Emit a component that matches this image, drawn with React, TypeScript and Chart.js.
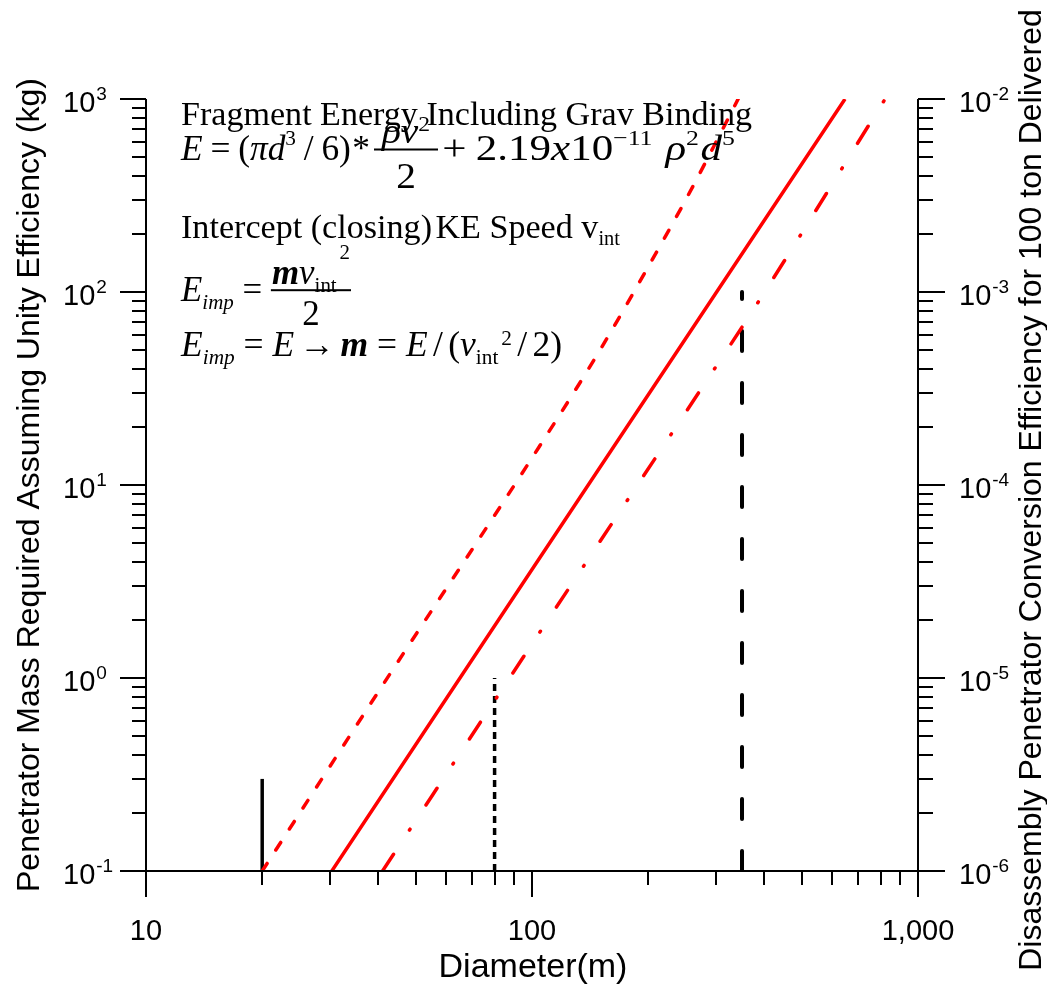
import React, { useEffect, useRef } from "react";
import { Chart, registerables } from "chart.js";

Chart.register(...registerables);

// ---------------- data ----------------
// Diameter (m) / penetrator mass (kg) pairs for the three red curves
const dashedDiam = [20, 43, 104, 150, 200, 250, 300, 342];
const dashedMass = [0.1, 1.06, 15.6, 50, 135, 300, 600, 1000];
const solidDiam = [30.3, 100, 647];
const solidMass = [0.1, 3.65, 1000];
const dashDotDiam = [41, 100, 267, 376, 822];
const dashDotMass = [0.1, 1.5, 29, 82, 1000];
// black vertical markers (diameter, top mass); they all start at the axis floor
const markerDiam = [20, 80, 350];
const markerTop = [0.3, 1, 100];
const markerBase = 0.1;

// axes
const xMin = 10;
const xMax = 1000;
const xMajorTicks = [10, 100, 1000];
const xTickLabels = ["10", "100", "1,000"];
const yMin = 0.1;
const yMax = 1000;
const yExponents = [-1, 0, 1, 2, 3];
const y2Min = 1e-6;
const y2Max = 1e-2;
const y2Exponents = [-6, -5, -4, -3, -2];

const xTitle = "Diameter(m)";
const yTitle = "Penetrator Mass Required Assuming Unity Efficiency (kg)";
const y2Title = "Disassembly Penetrator Conversion Efficiency for 100 ton Delivered";

const RED = "#ff0000";
const SANS = '"Liberation Sans", Arial, sans-serif';
const SERIF = '"Liberation Serif", "Times New Roman", serif';

const pairs = (xs: number[], ys: number[]) => xs.map((x, i) => ({ x, y: ys[i] }));

// ---------------- rich text helpers ----------------
type Tok = { t: string; it?: boolean; b?: boolean; s?: number; dy?: number; gap?: number };
type Frac = { num: Tok[]; den: Tok[]; numDy: number; denDy: number; barDy: number; pad?: number; gap?: number };
type Item = Tok | { frac: Frac };

const fontOf = (S: number, tk: Tok) =>
  `${tk.it ? "italic " : ""}${tk.b ? "bold " : ""}${(S * (tk.s ?? 1)).toFixed(2)}px ${SERIF}`;

function measureToks(ctx: CanvasRenderingContext2D, S: number, toks: Tok[]) {
  let w = 0;
  for (const tk of toks) {
    w += (tk.gap ?? 0) * S;
    ctx.font = fontOf(S, tk);
    w += ctx.measureText(tk.t).width;
  }
  return w;
}

function drawToks(ctx: CanvasRenderingContext2D, S: number, toks: Tok[], x: number, y: number) {
  for (const tk of toks) {
    x += (tk.gap ?? 0) * S;
    ctx.font = fontOf(S, tk);
    ctx.fillText(tk.t, x, y + (tk.dy ?? 0) * S);
    x += ctx.measureText(tk.t).width;
  }
  return x;
}

function itemWidth(ctx: CanvasRenderingContext2D, S: number, it: Item) {
  if ("frac" in it) {
    const f = it.frac;
    return (f.gap ?? 0) * S + Math.max(measureToks(ctx, S, f.num), measureToks(ctx, S, f.den)) + 2 * (f.pad ?? 0) * S;
  }
  return measureToks(ctx, S, [it]);
}

function drawRich(ctx: CanvasRenderingContext2D, S: number, items: Item[], x0: number, x1: number, base: number) {
  let W = 0;
  for (const it of items) W += itemWidth(ctx, S, it);
  const k = (x1 - x0) / W;
  ctx.save();
  ctx.translate(x0, base);
  ctx.scale(k, 1);
  ctx.fillStyle = "#000";
  ctx.textAlign = "left";
  ctx.textBaseline = "alphabetic";
  let x = 0;
  for (const it of items) {
    if ("frac" in it) {
      const f = it.frac;
      x += (f.gap ?? 0) * S;
      const nw = measureToks(ctx, S, f.num);
      const dw = measureToks(ctx, S, f.den);
      const w = Math.max(nw, dw) + 2 * (f.pad ?? 0) * S;
      drawToks(ctx, S, f.num, x + (w - nw) / 2, f.numDy * S);
      drawToks(ctx, S, f.den, x + (w - dw) / 2, f.denDy * S);
      ctx.fillRect(x, f.barDy * S - 1, w, 2);
      x += w;
    } else {
      x = drawToks(ctx, S, [it], x, 0);
    }
  }
  ctx.restore();
}

const sup = (t: string, dy = -0.42): Tok => ({ t, s: 0.6, dy });
const sub = (t: string, it = false): Tok => ({ t, s: 0.6, dy: 0.22, it });

const line1: Item[] = [{ t: "Fragment Energy Including Grav Binding" }];
const line2a: Item[] = [
  { t: "E", it: true },
  { t: "=", gap: 0.22 },
  { t: "(", gap: 0.22 },
  { t: "π", it: true },
  { t: "d", it: true },
  sup("3"),
  { t: "/", gap: 0.22 },
  { t: "6", gap: 0.22 },
  { t: ")" },
  { t: "*", gap: 0.04 },
];
const line2frac: Item[] = [
  {
    frac: {
      num: [{ t: "ρ", it: true }, { t: "v", it: true }, sup("2", -0.36)],
      den: [{ t: "2" }],
      numDy: -0.48,
      denDy: 0.8,
      barDy: -0.3,
      pad: 0.2,
    },
  },
];
const line2b: Item[] = [
  { t: "+", gap: 0.05 },
  { t: "2.19", gap: 0.22 },
  { t: "x", it: true },
  { t: "10" },
  sup("−11"),
  { t: "ρ", it: true, gap: 0.3 },
  sup("2"),
  { t: "d", it: true, gap: 0.04 },
  sup("5"),
];
const line3: Item[] = [{ t: "Intercept (closing)" }, { t: "KE Speed v", gap: 0.1 }, sub("int")];
const line4: Item[] = [
  { t: "E", it: true },
  sub("imp", true),
  { t: "=", gap: 0.25 },
  {
    frac: {
      num: [{ t: "m", it: true, b: true }, { t: "v", it: true }, sub("int"), { t: "2", s: 0.6, dy: -0.68, gap: 0.08 }],
      den: [{ t: "2" }],
      numDy: -0.48,
      denDy: 0.68,
      barDy: -0.3,
      pad: 0.03,
      gap: 0.25,
    },
  },
];
const line5: Item[] = [
  { t: "E", it: true },
  sub("imp", true),
  { t: "=", gap: 0.25 },
  { t: "E", it: true, gap: 0.25 },
  { t: "→", gap: 0.15 },
  { t: "m", it: true, b: true, gap: 0.15 },
  { t: "=", gap: 0.25 },
  { t: "E", it: true, gap: 0.25 },
  { t: "/", gap: 0.15 },
  { t: "(", gap: 0.15 },
  { t: "v", it: true },
  sub("int"),
  { t: "2", s: 0.6, dy: -0.3, gap: 0.08 },
  { t: "/", gap: 0.15 },
  { t: "2", gap: 0.15 },
  { t: ")" },
];

// ---------------- axis / annotation plugin ----------------
const decorPlugin = {
  id: "decor",
  afterDraw(chart: any) {
    const ctx: CanvasRenderingContext2D = chart.ctx;
    const { left, right, top, bottom } = chart.chartArea;
    const xs = chart.scales.x;
    const ys = chart.scales.y;
    const y2 = chart.scales.y2;
    const MAJ = 26;
    const MIN = 14;
    ctx.save();
    ctx.strokeStyle = "#000";
    ctx.fillStyle = "#000";
    ctx.lineWidth = 2;
    ctx.lineCap = "butt";
    ctx.beginPath();
    ctx.moveTo(left, top);
    ctx.lineTo(left, bottom);
    ctx.lineTo(right, bottom);
    ctx.moveTo(right, top);
    ctx.lineTo(right, bottom);
    ctx.stroke();

    // x ticks
    ctx.beginPath();
    for (let d = xMin; d <= xMax; d *= 10) {
      for (let m = 1; m <= 9; m++) {
        const v = d * m;
        if (v > xMax * 1.0001) break;
        const px = Math.round(xs.getPixelForValue(v));
        ctx.moveTo(px, bottom);
        ctx.lineTo(px, bottom + (m === 1 ? MAJ : MIN));
      }
    }
    // left y ticks
    for (let d = yMin; d <= yMax * 1.0001; d *= 10) {
      for (let m = 1; m <= 9; m++) {
        const v = d * m;
        if (v > yMax * 1.0001) break;
        const py = Math.round(ys.getPixelForValue(v));
        ctx.moveTo(left, py);
        ctx.lineTo(left - (m === 1 ? MAJ : MIN), py);
      }
    }
    // right y ticks
    for (let e = -6; e <= -2; e++) {
      const d = Math.pow(10, e);
      for (let m = 1; m <= 9; m++) {
        const v = d * m;
        if (v > y2Max * 1.0001) break;
        const py = Math.round(y2.getPixelForValue(v));
        ctx.moveTo(right, py);
        ctx.lineTo(right + (m === 1 ? MAJ + 1 : MIN + 1), py);
      }
    }
    ctx.stroke();

    // x tick labels
    ctx.font = `29px ${SANS}`;
    ctx.textAlign = "center";
    ctx.textBaseline = "alphabetic";
    xMajorTicks.forEach((v, i) => {
      ctx.fillText(xTickLabels[i], xs.getPixelForValue(v), 940);
    });

    const drawPow = (x: number, y: number, exp: number) => {
      ctx.textAlign = "left";
      ctx.font = `29px ${SANS}`;
      ctx.fillText("10", x, y + 13);
      const w = ctx.measureText("10").width;
      ctx.font = `19px ${SANS}`;
      ctx.fillText(exp < 0 ? "-" + Math.abs(exp) : String(exp), x + w + 1, y + 1);
    };
    yExponents.forEach((e) => drawPow(63, ys.getPixelForValue(Math.pow(10, e)), e));
    y2Exponents.forEach((e) => drawPow(959, y2.getPixelForValue(Math.pow(10, e)), e));

    // axis titles
    ctx.font = `32px ${SANS}`;
    ctx.textAlign = "center";
    ctx.save();
    ctx.translate(39, (top + bottom) / 2);
    ctx.rotate(-Math.PI / 2);
    ctx.fillText(yTitle, 0, 0);
    ctx.restore();
    ctx.save();
    ctx.translate(1041, 490);
    ctx.rotate(-Math.PI / 2);
    ctx.fillText(y2Title, 0, 0);
    ctx.restore();
    ctx.font = `34px ${SANS}`;
    ctx.fillText(xTitle, (left + right) / 2 + 1, 977);

    // equations
    drawRich(ctx, 33, line1, 181, 752, 125);
    drawRich(ctx, 35, line2a, 181, 370, 160);
    drawRich(ctx, 35, line2frac, 374, 438, 160);
    drawRich(ctx, 36, line2b, 440, 735, 160);
    drawRich(ctx, 34, line3, 181, 620, 238);
    drawRich(ctx, 36, line4, 181, 351, 301);
    drawRich(ctx, 36, line5, 181, 562, 356);
    ctx.restore();
  },
};

export default function App() {
  const ref = useRef<HTMLCanvasElement>(null);
  useEffect(() => {
    if (!ref.current) return;
    const common = { pointRadius: 0, pointHoverRadius: 0, fill: false };
    const chart = new Chart(ref.current, {
      type: "line",
      data: {
        datasets: [
          {
            ...common,
            label: "dashed",
            data: pairs(dashedDiam, dashedMass),
            borderColor: RED,
            borderWidth: 3.5,
            borderDash: [9, 16],
            borderCapStyle: "round",
            cubicInterpolationMode: "monotone",
          },
          {
            ...common,
            label: "solid",
            data: pairs(solidDiam, solidMass),
            borderColor: RED,
            borderWidth: 3.5,
          },
          {
            ...common,
            label: "dash-dot",
            data: pairs(dashDotDiam, dashDotMass),
            borderColor: RED,
            borderWidth: 3.5,
            borderDash: [20, 29, 1, 29],
            borderCapStyle: "round",
            cubicInterpolationMode: "monotone",
          },
          {
            ...common,
            label: "m1",
            data: [
              { x: markerDiam[0], y: markerBase },
              { x: markerDiam[0], y: markerTop[0] },
            ],
            borderColor: "#000",
            borderWidth: 3.5,
          },
          {
            ...common,
            label: "m2",
            data: [
              { x: markerDiam[1], y: markerBase },
              { x: markerDiam[1], y: markerTop[1] },
            ],
            borderColor: "#000",
            borderWidth: 3.5,
            borderDash: [7, 5],
          },
          {
            ...common,
            label: "m3",
            data: [
              { x: markerDiam[2], y: markerBase },
              { x: markerDiam[2], y: markerTop[2] },
            ],
            borderColor: "#000",
            borderWidth: 4,
            borderDash: [20, 32],
            borderCapStyle: "round",
          },
        ],
      } as any,
      options: {
        animation: false,
        responsive: false,
        maintainAspectRatio: false,
        events: [],
        layout: { padding: { left: 146, right: 129, top: 99, bottom: 113 } },
        plugins: { legend: { display: false }, tooltip: { enabled: false }, title: { display: false } },
        scales: {
          x: { type: "logarithmic", min: xMin, max: xMax, display: false },
          y: { type: "logarithmic", min: yMin, max: yMax, display: false },
          y2: { type: "logarithmic", position: "right", min: y2Min, max: y2Max, display: false },
        },
      } as any,
      plugins: [decorPlugin],
    });
    return () => chart.destroy();
  }, []);
  return (
    <div style={{ position: "absolute", left: 0, top: 0, width: 1047, height: 984, background: "#fff" }}>
      <canvas ref={ref} width={1047} height={984} style={{ display: "block" }} />
    </div>
  );
}
